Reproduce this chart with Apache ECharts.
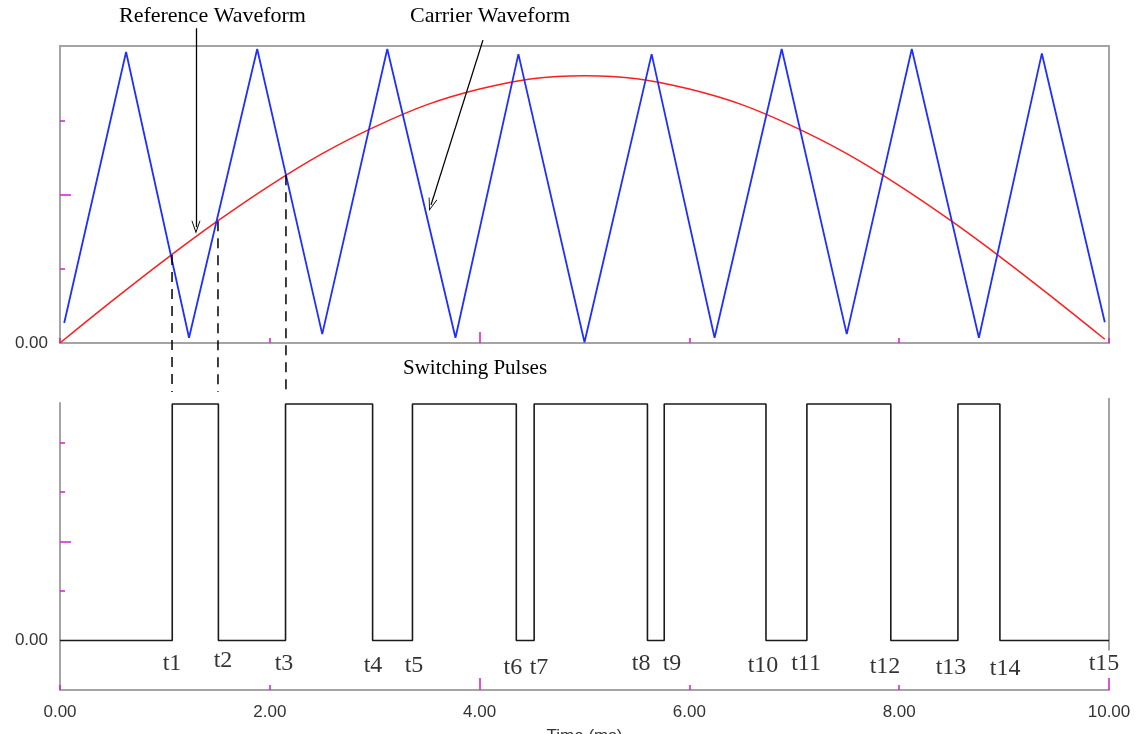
<!DOCTYPE html>
<html><head><meta charset="utf-8">
<script src="https://cdn.jsdelivr.net/npm/echarts@6/dist/echarts.min.js"></script>
<style>html,body{margin:0;padding:0;background:#fff}#c{width:1138px;height:734px}</style>
</head><body><div id="c"></div>
<script>
// ---- Data ----
// Red sinusoid (labelled "Carrier Waveform" in the original)
const redT = [0,0.5,1,1.5,2,2.5,3,3.5,4,4.5,5,5.5,6,6.5,7,7.5,8,8.5,9,9.5,9.96];
const redV = [0.00,0.57,1.12,1.64,2.12,2.55,2.91,3.21,3.42,3.56,3.60,3.56,3.42,3.21,2.91,2.55,2.12,1.64,1.12,0.57,0.05];
// Blue triangle wave: peaks and troughs
const blueT = [0.04,0.63,1.23,1.88,2.50,3.12,3.77,4.37,5.00,5.64,6.24,6.88,7.50,8.12,8.76,9.36,9.96];
const blueV = [0.27,3.92,0.07,3.96,0.12,3.96,0.07,3.89,0.01,3.89,0.07,3.96,0.12,3.96,0.07,3.90,0.28];
// Switching pulses: transition times and level after each transition
const pulseT = [1.07,1.51,2.15,2.98,3.36,4.35,4.52,5.60,5.76,6.73,7.12,7.92,8.56,8.96,10.0];
const pulseLevel = [4.78,0,4.78,0,4.78,0,4.78,0,4.78,0,4.78,0,4.78,0,0];
// t-labels and their positions (bottom panel units)
const tNames = ['t1','t2','t3','t4','t5','t6','t7','t8','t9','t10','t11','t12','t13','t14','t15'];
const tLabelX = [1.068,1.554,2.135,2.984,3.375,4.318,4.566,5.539,5.834,6.702,7.112,7.865,8.494,9.009,9.952];
const tLabelY = [-0.46,-0.40,-0.46,-0.51,-0.51,-0.55,-0.55,-0.46,-0.46,-0.51,-0.46,-0.53,-0.55,-0.57,-0.46];
// Dashed drop lines: intersection points (top panel units)
const dropT = [1.068,1.506,2.154];
const dropTop = [1.185,1.64,2.26];
const dropBottom = -0.66;
// Annotation arrows (top panel units, extended overlay): [x1,y1,x2,y2]
const arrowRef = [1.296,4.24,1.296,1.56];
const arrowCar = [4.032,4.08,3.537,1.86];
// t15 marker line (bottom panel units)
const markT15 = [10, -0.2, 4.9];
// Tick values
const xTicksLong = [4];
const xTicksShortTop = [0,2,6,8,10];
const xTicksShortBot = [0,2,6,8];
const xTicksLongBot = [4,10];
const xLabelVals = [0,2,4,6,8,10];
const yTicksLongTop = [2], yTicksShortTop = [1,3];
const yTicksLongBot = [2], yTicksShortBot = [1,3,4];

// ---- Build ----
const GRAY = '#a4a4a4', MAG = '#d81ad8';
const redData = redT.map((t,i)=>[t, redV[i]]);
const blueData = blueT.map((t,i)=>[t, blueV[i]]);
const pulseData = [[0,0]];
let prev = 0;
pulseT.forEach((t,i)=>{ pulseData.push([t,prev]); pulseData.push([t,pulseLevel[i]]); prev = pulseLevel[i]; });
const labelData = tNames.map((n,i)=>({name:n, value:[tLabelX[i], tLabelY[i]]}));

const chevron = 'path://M0,10 L5,0 L10,10 L9,10 L5,2.2 L1,10 Z';

function xAx(grid, ticks, len, opts) {
  return Object.assign({
    type:'value', gridIndex:grid, min:0, max:10, position:'bottom',
    axisLine:{show:false, onZero:false},
    axisTick:{show:true, inside:true, length:len, customValues:ticks, lineStyle:{color:MAG, width:1.5}},
    axisLabel:{show:false}, splitLine:{show:false}
  }, opts||{});
}
function yAx(grid, min, max, ticks, len, opts) {
  return Object.assign({
    type:'value', gridIndex:grid, min:min, max:max, position:'left',
    axisLine:{show:false, onZero:false},
    axisTick:{show:true, inside:true, length:len, customValues:ticks, lineStyle:{color:MAG, width:1.5}},
    axisLabel:{show:false}, splitLine:{show:false}
  }, opts||{});
}

const labelFont = {fontFamily:'Liberation Sans', fontSize:17, color:'#333'};

const dropSeries = dropT.map((t,i)=>({
  type:'line', xAxisIndex:0, yAxisIndex:0, clip:false, symbol:'none', silent:true,
  data:[[t, dropTop[i]],[t, dropBottom]],
  lineStyle:{color:'#000', width:1.5, type:[10,7]}, z:5
}));

const option = {
  animation:false,
  backgroundColor:'#fff',
  title:[
    {text:'Reference Waveform', left:114, top:0, textStyle:{fontFamily:'Liberation Serif', fontSize:22, fontWeight:'normal', color:'#000'}},
    {text:'Carrier Waveform', left:405, top:0, textStyle:{fontFamily:'Liberation Serif', fontSize:22, fontWeight:'normal', color:'#000'}},
    {text:'Switching Pulses', left:398, top:353, textStyle:{fontFamily:'Liberation Serif', fontSize:21, fontWeight:'normal', color:'#000'}}
  ],
  grid:[
    {left:60, right:29, top:46, height:297, show:true, borderColor:GRAY, borderWidth:2, backgroundColor:'#fff', outerBoundsMode:'none', containLabel:false},
    {left:60, right:29, top:403, height:287, show:false, outerBoundsMode:'none', containLabel:false},
    {left:60, right:29, top:0, height:343, show:false, outerBoundsMode:'none', containLabel:false}
  ],
  xAxis:[
    xAx(0, xTicksLong, 11),
    xAx(0, xTicksShortTop, 5),
    xAx(1, xTicksLongBot, 12, {
      axisLine:{show:true, onZero:false, lineStyle:{color:GRAY, width:2}},
      axisLabel:Object.assign({show:true, customValues:xLabelVals, margin:14, formatter:v=>v.toFixed(2)}, labelFont),
      name:'Time (ms)', nameLocation:'middle', nameGap:38,
      nameTextStyle:{fontFamily:'Liberation Sans', fontSize:17, color:'#333'}
    }),
    xAx(1, xTicksShortBot, 5),
    {type:'value', gridIndex:2, min:0, max:10, show:false}
  ],
  yAxis:[
    yAx(0, 0, 4, yTicksLongTop, 11, {
      axisLabel:Object.assign({show:true, customValues:[0], margin:12, formatter:v=>v.toFixed(2)}, labelFont)
    }),
    yAx(0, 0, 4, yTicksShortTop, 5),
    yAx(1, -1, 4.8, yTicksLongBot, 11, {
      axisLine:{show:true, onZero:false, lineStyle:{color:GRAY, width:2}},
      axisLabel:Object.assign({show:true, customValues:[0], margin:12, formatter:v=>v.toFixed(2)}, labelFont)
    }),
    yAx(1, -1, 4.8, yTicksShortBot, 5),
    {type:'value', gridIndex:2, min:0, max:4.62, show:false}
  ],
  series:[
    {type:'line', name:'Sine', xAxisIndex:0, yAxisIndex:0, data:redData, smooth:0.4, symbol:'none',
     lineStyle:{color:'#ff1e1e', width:1.5}, z:3},
    {type:'line', name:'Triangle', xAxisIndex:0, yAxisIndex:0, data:blueData, symbol:'none',
     lineStyle:{color:'#1f2fff', width:1.8}, z:4},
    ...dropSeries,
    {type:'line', name:'arrows', xAxisIndex:4, yAxisIndex:4, clip:false, symbol:'none', silent:true,
     data:[[arrowRef[0], arrowRef[1]]], lineStyle:{width:0},
     markLine:{silent:true, symbol:['none', chevron], symbolSize:[9,13], animation:false,
       label:{show:false}, emphasis:{disabled:true},
       lineStyle:{color:'#000', width:1.3, type:'solid'},
       data:[
         [{coord:[arrowRef[0],arrowRef[1]]},{coord:[arrowRef[2],arrowRef[3]]}],
         [{coord:[arrowCar[0],arrowCar[1]]},{coord:[arrowCar[2],arrowCar[3]]}]
       ]}},
    {type:'line', name:'Pulses', xAxisIndex:2, yAxisIndex:2, data:pulseData, symbol:'none', clip:false,
     lineStyle:{color:'#1a1a1a', width:1.6}, z:4},
    {type:'line', name:'t15 marker', xAxisIndex:2, yAxisIndex:2, clip:false, symbol:'none', silent:true,
     data:[[markT15[0], markT15[1]],[markT15[0], markT15[2]]], lineStyle:{color:GRAY, width:2}, z:2},
    {type:'scatter', name:'labels', xAxisIndex:2, yAxisIndex:2, data:labelData, symbolSize:0, clip:false, silent:true,
     label:{show:true, position:'inside', formatter:p=>p.name, fontFamily:'Liberation Serif', fontSize:24, color:'#000'}}
  ]
};
const chart = echarts.init(document.getElementById('c'), null, {renderer:'canvas'});
chart.setOption(option);
</script>
</body></html>
